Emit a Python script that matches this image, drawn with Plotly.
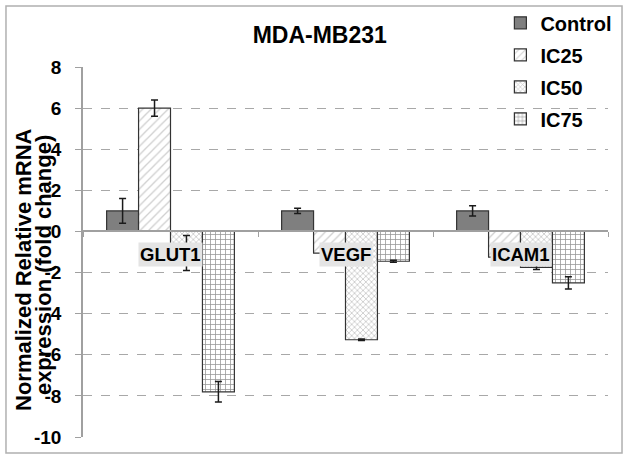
import plotly.graph_objects as go

categories = ["GLUT1", "VEGF", "ICAM1"]
series_names = ["Control", "IC25", "IC50", "IC75"]
control = [1.0, 1.0, 1.0]
control_err = [0.6, 0.13, 0.25]
ic25 = [6.0, -1.05, -1.25]
ic25_err = [0.4, 0.0, 0.0]
ic50 = [-1.05, -5.27, -1.75]
ic50_err = [0.85, 0.04, 0.1]
ic75 = [-7.8, -1.45, -2.5]
ic75_err = [0.5, 0.05, 0.3]
y_ticks = [8, 6, 4, 2, 0, -2, -4, -6, -8, -10]
y_tick_labels = ["8", "6", "4", "2", "0", "-2", "-4", "-6", "-8", "-10"]
title_text = "MDA-MB231"
y_title_lines = ["Normalized Relative mRNA", "expression (fold change)"]

Y_MIN, Y_MAX = -10, 8
FONT = "Arial, Liberation Sans, sans-serif"

values = [control, ic25, ic50, ic75]
errors = [control_err, ic25_err, ic50_err, ic75_err]
styles = [
    dict(color="#7f7f7f", pattern=None),
    dict(color="white", pattern=dict(shape="/", fgcolor="#a0a0a0", bgcolor="white", size=6, solidity=0.22)),
    dict(color="white", pattern=dict(shape="x", fgcolor="#8a8a8a", bgcolor="white", size=4, solidity=0.35)),
    dict(color="white", pattern=dict(shape="+", fgcolor="#2a2a2a", bgcolor="white", size=5, solidity=0.28)),
]

fig = go.Figure()
for i, name in enumerate(series_names):
    marker = dict(color=styles[i]["color"], line=dict(color="#333333", width=1.2))
    if styles[i]["pattern"] is not None:
        marker["pattern"] = styles[i]["pattern"]
    fig.add_trace(go.Bar(
        x=categories, y=values[i], name=name, marker=marker,
        legendgroup=name,
        error_y=dict(type="data", array=errors[i], visible=True,
                     color="#1a1a1a", thickness=1.5, width=3.5),
    ))

zero_pos = (0 - Y_MIN) / (Y_MAX - Y_MIN)

for cat in categories:
    fig.add_annotation(
        x=cat, y=0, xref="x", yref="y", text=cat, showarrow=False,
        yanchor="top", yshift=-11, bgcolor="#e4e4e4", borderpad=1,
        font=dict(family=FONT, size=18.5, color="black", weight="bold"),
    )

# y-axis title as two rotated lines
for line, xp, yp in [(y_title_lines[0], -0.112, 0.452), (y_title_lines[1], -0.074, 0.465)]:
    fig.add_annotation(
        x=xp, y=yp, xref="paper", yref="paper", text=line,
        textangle=-90, showarrow=False, xanchor="center", yanchor="middle",
        font=dict(family=FONT, size=22, color="black", weight="bold"),
    )

fig.add_shape(type="rect", xref="paper", yref="paper", layer="above",
              x0=-0.1467, x1=1.0267, y0=-0.0432, y1=1.165,
              line=dict(color="#b0b0b0", width=1.5))

fig.update_layout(
    width=627, height=455,
    margin=dict(l=83, r=19, t=67, b=18, autoexpand=False),
    paper_bgcolor="white", plot_bgcolor="white",
    barmode="group", bargap=0.27, bargroupgap=0,
    title=dict(text=title_text, x=0.451, xref="paper", xanchor="center",
               y=1 - 35 / 455, yref="container", yanchor="middle",
               font=dict(family=FONT, size=23, color="black", weight="bold")),
    legend=dict(x=0.795, xanchor="left", y=1.172, yanchor="top",
                bgcolor="rgba(0,0,0,0)", tracegroupgap=3,
                font=dict(family=FONT, size=20, color="black", weight="bold")),
    xaxis=dict(anchor="free", position=zero_pos, showline=True,
               linecolor="#a0a0a0", linewidth=1.5, showticklabels=False,
               ticks="outside", tickson="boundaries", ticklen=5,
               tickcolor="#a0a0a0", showgrid=False, zeroline=False),
    yaxis=dict(range=[Y_MIN, Y_MAX], tickvals=y_ticks, ticktext=y_tick_labels,
               showline=True,
               linecolor="#a0a0a0", linewidth=1.5, ticks="outside", ticklen=6,
               tickcolor="#a0a0a0", ticklabelstandoff=10, automargin=False,
               showgrid=True, gridcolor="#a8a8a8", griddash="dash", gridwidth=1,
               zeroline=False,
               tickfont=dict(family=FONT, size=19, color="black", weight="bold")),
)

fig.write_html(
    "out.html",
    config={"displayModeBar": False},
    post_script="document.body.style.margin='0';document.body.style.padding='0';",
)
